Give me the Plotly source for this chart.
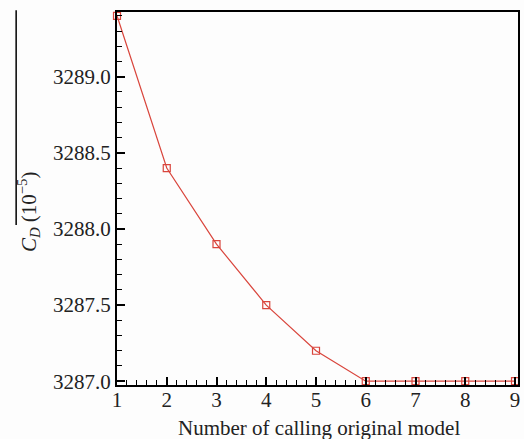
import plotly.graph_objects as go

# Drag coefficient versus number of calls to the original model
calls = [1, 2, 3, 4, 5, 6, 7, 8, 9]
cd_values = [3289.4, 3288.4, 3287.9, 3287.5, 3287.2, 3287.0, 3287.0, 3287.0, 3287.0]
x_ticks = [1, 2, 3, 4, 5, 6, 7, 8, 9]
y_ticks = [3287.0, 3287.5, 3288.0, 3288.5, 3289.0]
y_tick_text = ["3287.0", "3287.5", "3288.0", "3288.5", "3289.0"]

red = "#d9453c"
ink = "#222"
font_family = "Liberation Serif"

fig = go.Figure()
fig.add_trace(go.Scatter(
    x=calls, y=cd_values,
    mode="lines+markers",
    line=dict(color=red, width=1.2),
    marker=dict(symbol="square-open", size=7, color=red, line=dict(width=1.2, color=red)),
    cliponaxis=False,
    showlegend=False,
))

axis_common = dict(
    showline=True, linecolor="black", linewidth=2, mirror=True,
    ticks="inside", ticklen=8, tickwidth=2, tickcolor="black",
    showgrid=False, zeroline=False,
    tickfont=dict(family=font_family, size=21, color=ink),
)

fig.update_xaxes(
    range=[1, 9.06], tickvals=x_ticks, ticklabelstandoff=-5,
    minor=dict(ticks="inside", ticklen=5, tickwidth=1, tickcolor="black", dtick=0.2, tick0=1),
    **axis_common,
)
fig.update_yaxes(
    range=[3286.975, 3289.425], tickvals=y_ticks, ticktext=y_tick_text,
    minor=dict(ticks="inside", ticklen=5, tickwidth=1, tickcolor="black", dtick=0.1, tick0=3287.0),
    **axis_common,
)

# Axis titles
fig.add_annotation(
    text="Number of calling original model", xref="paper", yref="paper",
    x=0.504, y=-0.116, xanchor="center", yanchor="middle", showarrow=False,
    font=dict(family=font_family, size=21, color=ink),
)
fig.add_annotation(
    text="<i>C</i><sub><i>D</i></sub> (10<sup>−5</sup>)", xref="paper", yref="paper",
    x=-0.219, y=0.464, xanchor="center", yanchor="middle", textangle=-90, showarrow=False,
    font=dict(family=font_family, size=21, color=ink),
)

# Overline beside the y-axis title
fig.add_shape(type="line", xref="paper", yref="paper",
              x0=-0.2515, x1=-0.2515, y0=0.429, y1=1.005,
              line=dict(color="black", width=1.5))

fig.update_layout(
    width=524, height=439,
    margin=dict(l=117, r=4, t=12, b=54),
    paper_bgcolor="#fdfdfd", plot_bgcolor="#fdfdfd",
    font=dict(family=font_family),
)

fig.write_html("out.html")
